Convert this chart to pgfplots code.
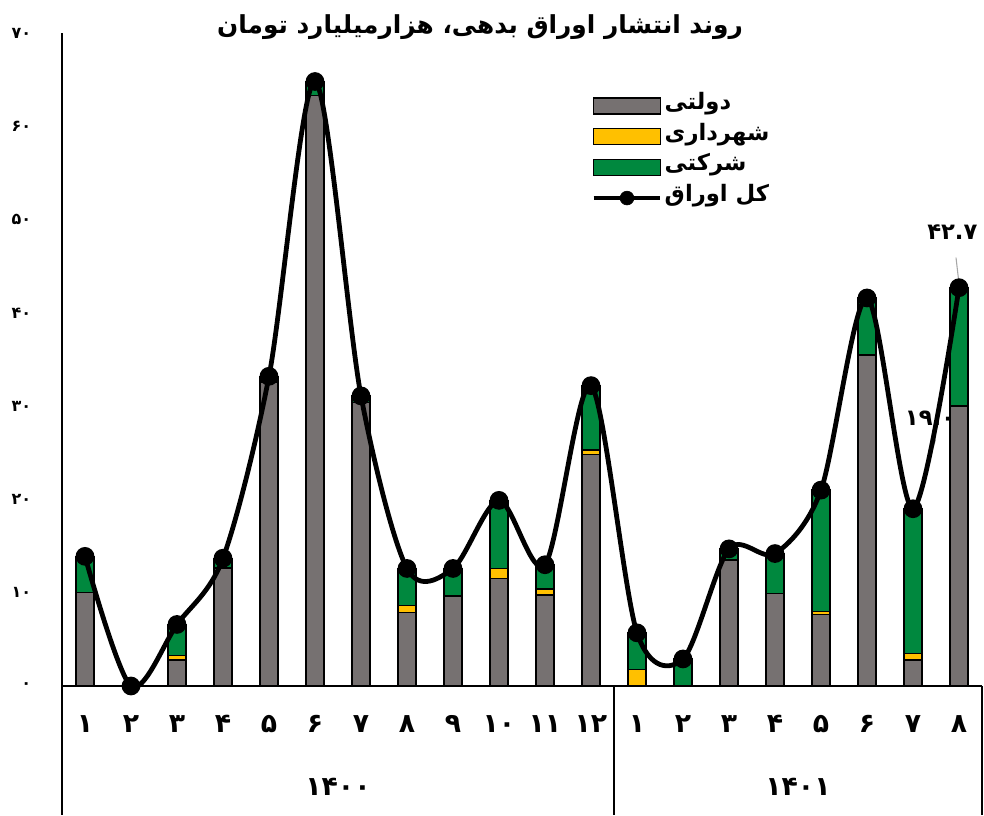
\documentclass[border=0pt]{standalone}
\usepackage{pgfplots}
\pgfplotsset{compat=1.18}
\usepackage{pgfplotstable}
\usepackage{fontspec}
\TeXXeTstate=1
\newfontfamily\arabicfont[Script=Arabic]{DejaVu Sans}
\definecolor{cgov}{RGB}{118,113,113}
\definecolor{cmun}{RGB}{255,192,0}
\definecolor{ccorp}{RGB}{0,136,62}
\pgfplotsset{
 myswatch/.style={legend image code/.code={\draw[##1] (0pt,-6pt) rectangle (50pt,6pt);}},
 mylineleg/.style={legend image code/.code={\draw[black,line width=3.6pt] (0pt,0pt) -- (50pt,0pt); \fill[black] (25pt,0pt) circle (5.2pt);}},
}
\pgfplotstableread{
x gov mun corp total
0 10.0 0 3.9 13.9
1 0 0 0 0
2 2.8 0.5 3.3 6.6
3 12.6 0.1 1.0 13.7
4 32.6 0 0.6 33.2
5 63.3 0 1.5 64.8
6 30.4 0 0.7 31.1
7 7.85 0.75 4.0 12.6
8 9.65 0 2.95 12.6
9 11.55 1.05 7.3 19.9
10 9.75 0.65 2.6 13.0
11 24.8 0.5 6.9 32.2
12 0 1.8 3.9 5.7
13 0 0 2.9 2.9
14 13.5 0 1.2 14.7
15 9.95 0 4.25 14.2
16 7.7 0.3 13.0 21.0
17 35.5 0 6.1 41.6
18 2.8 0.7 15.5 19.0
19 30.0 0 12.7 42.7
}\data
\begin{document}
\begin{tikzpicture}
\useasboundingbox (-46.5pt,-96.75pt) rectangle (691.5pt,514.5pt);
\begin{axis}[
 at={(0pt,0pt)}, anchor=south west,
 scale only axis, width=690pt, height=489.75pt,
 xmin=-0.5, xmax=19.5, ymin=0, ymax=70,
 axis x line=bottom, axis y line=left,
 axis line style={-, line width=1.5pt},
 major tick length=0pt,
 ytick={0,10,...,70},
 yticklabels={۰,۱۰,۲۰,۳۰,۴۰,۵۰,۶۰,۷۰},
 yticklabel style={font=\arabicfont\bfseries\fontsize{12}{14}\selectfont, anchor=east, inner sep=0pt, xshift=-23pt},
 xtick={0,...,19},
 xticklabels={۱,۲,۳,۴,۵,۶,۷,۸,۹,۱۰,۱۱,۱۲,۱,۲,۳,۴,۵,۶,۷,۸},
 xticklabel style={font=\arabicfont\bfseries\fontsize{20}{22}\selectfont, anchor=base, inner sep=0pt, yshift=-35pt},
 ybar stacked, bar width=13.5pt,
 clip=false,
]
\addplot[fill=cgov, draw=black, line width=1pt] table[x=x,y=gov]{\data};
\addplot[fill=cmun, draw=black, line width=1pt] table[x=x,y=mun]{\data};
\addplot[fill=ccorp, draw=black, line width=1pt] table[x=x,y=corp]{\data};
\end{axis}
\begin{axis}[
 at={(0pt,0pt)}, anchor=south west,
 scale only axis, width=690pt, height=489.75pt,
 xmin=-0.5, xmax=19.5, ymin=0, ymax=70,
 hide axis, clip=false,
 legend style={at={(0.575,0.912)}, anchor=north west, draw=none, fill=none,
   font=\arabicfont\bfseries\fontsize{17}{19}\selectfont, row sep=0pt, inner sep=0pt,
   nodes={inner sep=1.5pt, text height=12.5pt, text depth=7.5pt}},
 legend cell align=left,
]
\addlegendimage{myswatch, fill=cgov, draw=black, line width=1pt}
\addlegendentry{\beginR دولتی\endR}
\addlegendimage{myswatch, fill=cmun, draw=black, line width=1pt}
\addlegendentry{\beginR شهرداری\endR}
\addlegendimage{myswatch, fill=ccorp, draw=black, line width=1pt}
\addlegendentry{\beginR شرکتی\endR}
\addlegendimage{mylineleg}
\addlegendentry{\beginR کل اوراق\endR}
\node[font=\arabicfont\bfseries\fontsize{17}{19}\selectfont] at (axis cs:18,19.0) [xshift=12.75pt, yshift=68pt] {۱۹.۰};
\draw[gray!70, line width=0.8pt] ([xshift=17pt,yshift=52pt]axis cs:18,19.0) -- ([xshift=1.5pt,yshift=4pt]axis cs:18,19.0);
\node[font=\arabicfont\bfseries\fontsize{17}{19}\selectfont] at (axis cs:19,42.7) [xshift=-5pt, yshift=42pt] {۴۲.۷};
\draw[gray!70, line width=0.8pt] ([xshift=-2.25pt,yshift=22.5pt]axis cs:19,42.7) -- ([yshift=3pt]axis cs:19,42.7);
\addplot[black, line width=3.6pt, smooth, mark=*, mark size=5.2pt, mark options={solid, fill=black}] table[x=x,y=total]{\data};
\end{axis}
\draw[line width=1.5pt] (0pt,0pt) -- (0pt,-96.75pt);
\draw[line width=1.5pt] (414pt,0pt) -- (414pt,-96.75pt);
\draw[line width=1.5pt] (690pt,0pt) -- (690pt,-96.75pt);
\node[font=\arabicfont\bfseries\fontsize{20}{22}\selectfont, anchor=base] at (207pt,-81.75pt) {۱۴۰۰};
\node[font=\arabicfont\bfseries\fontsize{20}{22}\selectfont, anchor=base] at (552pt,-81.75pt) {۱۴۰۱};
\node[font=\arabicfont\bfseries\fontsize{18.6}{21}\selectfont] at (313.5pt,494pt) {\beginR روند انتشار اوراق بدهی، هزارمیلیارد تومان\endR};
\end{tikzpicture}
\end{document}
